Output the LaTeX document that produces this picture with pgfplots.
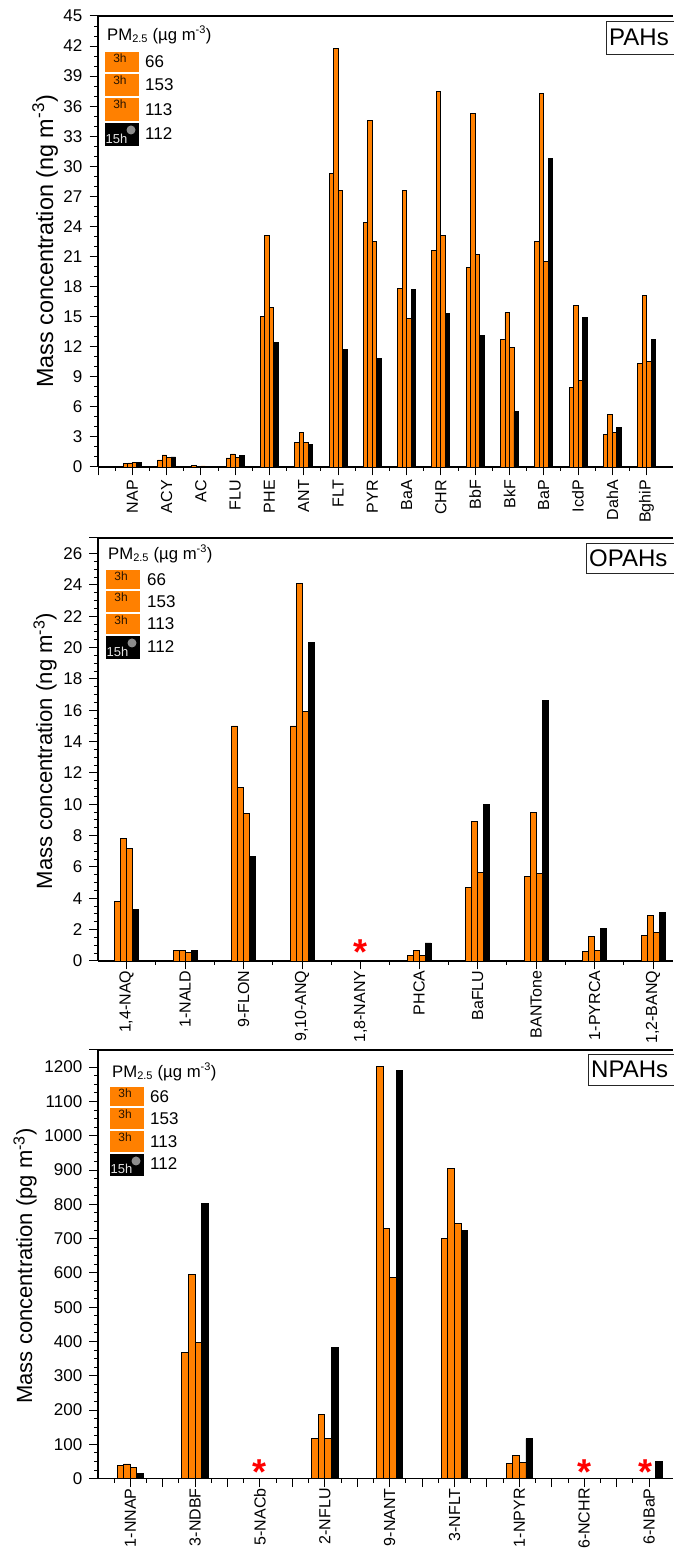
\documentclass[border=0pt]{standalone}
\usepackage{pgfplots}
\usepackage{fontspec}
\setmainfont{Liberation Sans}
\pgfplotsset{compat=1.18}
\usetikzlibrary{plotmarks}
\definecolor{org}{RGB}{255,128,0}
\newcommand{\fs}[1]{\fontsize{#1}{#1}\selectfont}
\pgfplotsset{
  panel/.style={
    scale only axis, width=575pt,
    axis x line*=bottom, axis y line*=left,
    axis line style={line width=1.1pt,-},
    tick style={line width=1pt,black},
    tick align=outside,
    major tick length=8.5pt, minor tick length=4pt,
    ymin=0,
    clip=false,
    ybar=0pt,
    /pgf/number format/assume math mode=true,
    /pgf/number format/set thousands separator={},
    yticklabel style={font=\fs{17},inner sep=1pt,xshift=-6pt},
    xticklabel style={font=\fs{16},rotate=90,anchor=east,inner sep=0pt,xshift=-1pt},
    ytick pos=left, xtick pos=bottom,
  },
  o/.style={fill=org,draw=black,line width=0.9pt},
  k/.style={fill=black,draw=black,line width=0.9pt},
  star/.style={only marks,mark=text,text mark={\fs{36}\bfseries *},text mark as node=true,color=red,
    forget plot, bar shift=0pt,
    every mark/.append style={solid}},
}
\newcommand{\leg}[9]{%
  \node[anchor=west,inner sep=0pt,font=\fs{16.7}] at (#9,{1552-#3}) {PM$_{\mbox{\fs{11}2.5}}$ (µg m$^{\mbox{\fs{11}-3}}$)};
  \foreach \t/\b/\v in {#4/#5/66,#5/#6/153,#6/#7/113}{
    \fill[org] (#1,{1552-\t}) rectangle ({#1+34},{1552-\b+2});
    \node[font=\fs{12},inner sep=0pt,color=black!85!org] at ({#1+15},{1552-\t-6.5}) {3h};
    \node[anchor=west,inner sep=0pt,font=\fs{17}] at (#2,{1552-(\t+\b-2)/2}) {\v};
  }
  \fill[black] (#1,{1552-#7}) rectangle ({#1+34},{1552-#8});
  \node[font=\fs{13},inner sep=0pt,text=white!90!black,anchor=south west] at ({#1+0.5},{1552-#8+2}) {15h};
  \fill[black!45] ({#1+26},{1552-#7-7}) circle (4.5);
  \node[anchor=west,inner sep=0pt,font=\fs{17}] at (#2,{1552-(#7+#8)/2+1}) {112};
}
\newcommand{\tagbox}[5]{%
  \fill[white] (#2,{1552-#3}) rectangle (673,{1552-#4});
  \draw[line width=0.8pt,black!85] (680,{1552-#3}) -- (#2,{1552-#3}) -- (#2,{1552-#4}) -- (680,{1552-#4});
  \node[anchor=west,inner sep=0pt,font=\fs{#5}] at ({#2+3},{1552-(#3+#4)/2}) {#1};
}
\begin{document}
\begin{tikzpicture}[x=1pt,y=1pt]
\path[use as bounding box] (0,0) rectangle (673,1552);
% ---------- PAHs
\begin{axis}[panel, at={(98pt,1085pt)}, anchor=south west, height=451pt,
  bar width=4.5pt,
  xmin=0, xmax=16.77, ymax=45,
  ytick={0,3,...,45}, minor y tick num=2,
  xtick={0,...,16}, minor x tick num=1,
  xticklabel style={xshift=-3.5pt},
  xticklabels={,NAP,ACY,AC,FLU,PHE,ANT,FLT,PYR,BaA,CHR,BbF,BkF,BaP,IcdP,DahA,BghiP},
  ylabel={Mass concentration (ng m$^{\mbox{\fs{17}-3}}$)},
  ylabel style={font=\fs{23.4},at={(axis description cs:-0.092,0.5)},anchor=center,inner sep=0pt},
]
\addplot[o] coordinates {(1,.35)(2,.7)(3,.15)(4,.9)(5,15)(6,2.45)(7,29.3)(8,24.4)(9,17.8)(10,21.6)(11,19.9)(12,12.7)(13,22.5)(14,7.9)(15,3.2)(16,10.3)};
\addplot[o] coordinates {(1,.4)(2,1.2)(3,.05)(4,1.3)(5,23.1)(6,3.45)(7,41.8)(8,34.6)(9,27.6)(10,37.5)(11,35.3)(12,15.4)(13,37.3)(14,16.1)(15,5.2)(16,17.1)};
\addplot[o] coordinates {(1,.45)(2,.95)(3,.1)(4,.95)(5,15.9)(6,2.4)(7,27.6)(8,22.5)(9,14.8)(10,23.1)(11,21.2)(12,11.9)(13,20.5)(14,8.6)(15,3.4)(16,10.5)};
\addplot[k] coordinates {(1,.45)(2,1)(3,.05)(4,1.15)(5,12.4)(6,2.2)(7,11.7)(8,10.8)(9,17.7)(10,15.3)(11,13.1)(12,5.5)(13,30.8)(14,14.9)(15,3.95)(16,12.7)};
\draw[line width=1.1pt] (rel axis cs:0,1) -- (rel axis cs:1,1);
\end{axis}
% ---------- OPAHs
\begin{axis}[panel, at={(98pt,591pt)}, anchor=south west, height=423pt,
  bar width=6pt,
  xmin=0.51, xmax=10.34, ymax=27,
  ytick={0,2,...,26}, minor y tick num=3, extra y ticks={27}, extra y tick labels={},
  xtick={1,...,10}, minor x tick num=1,
  xticklabels={{1,4-NAQ},1-NALD,9-FLON,{9,10-ANQ},{1,8-NANY},PHCA,BaFLU,BANTone,1-PYRCA,{1,2-BANQ}},
  ylabel={Mass concentration (ng m$^{\mbox{\fs{16}-3}}$)},
  ylabel style={font=\fs{22.1},at={(axis description cs:-0.092,0.496)},anchor=center,inner sep=0pt},
]
\addplot[o] coordinates {(1,3.8)(2,.65)(3,15)(4,15)(6,.35)(7,4.7)(8,5.4)(9,.6)(10,1.65)};
\addplot[o] coordinates {(1,7.8)(2,.65)(3,11.05)(4,24.1)(6,.65)(7,8.9)(8,9.5)(9,1.55)(10,2.9)};
\addplot[o] coordinates {(1,7.2)(2,.55)(3,9.4)(4,15.9)(6,.35)(7,5.65)(8,5.6)(9,.7)(10,1.8)};
\addplot[k] coordinates {(1,3.3)(2,.65)(3,6.65)(4,20.35)(6,1.15)(7,10)(8,16.6)(9,2.05)(10,3.1)};
\addplot[star] coordinates {(5,0.55)};
\draw[line width=1.1pt] (rel axis cs:0,1) -- (rel axis cs:1,1);
\end{axis}
% ---------- NPAHs
\begin{axis}[panel, at={(98pt,73.3pt)}, anchor=south west, height=428.7pt,
  bar width=6.6pt,
  xmin=0.502, xmax=9.369, ymax=1250,
  ytick={0,100,...,1200}, minor y tick num=3, extra y ticks={1250}, extra y tick labels={},
  xtick={0.5,1,...,9}, minor x tick num=1,
  xticklabels={,1-NNAP,,3-NDBF,,5-NACb,,2-NFLU,,9-NANT,,3-NFLT,,1-NPYR,,6-NCHR,,6-NBaP},
  ylabel={Mass concentration (pg m$^{\mbox{\fs{16}-3}}$)},
  ylabel style={font=\fs{22},at={(axis description cs:-0.127,0.496)},anchor=center,inner sep=0pt},
]
\addplot[o] coordinates {(1,38)(2,367)(4,118)(5,1203)(6,700)(7,45)};
\addplot[o] coordinates {(1,43)(2,596)(4,188)(5,730)(6,905)(7,68)};
\addplot[o] coordinates {(1,33)(2,398)(4,118)(5,587)(6,743)(7,46)};
\addplot[k] coordinates {(1,14)(2,802)(4,383)(5,1190)(6,725)(7,117)(9,50)};
\addplot[star] coordinates {(3,20)(8,20)(8.95,20)};
\draw[line width=1.1pt] (rel axis cs:0,1) -- (rel axis cs:1,1);
\end{axis}
\leg{105}{145}{35}{52}{74}{98}{123}{146}{107}
\leg{106}{147}{554}{570}{591}{614}{636}{659}{108}
\leg{110}{150}{1072}{1087}{1108}{1131}{1154}{1176}{112}
\tagbox{PAHs}{606}{21}{54}{24}
\tagbox{OPAHs}{586}{543}{573}{24}
\tagbox{NPAHs}{588}{1054}{1085}{24}
\end{tikzpicture}
\end{document}
